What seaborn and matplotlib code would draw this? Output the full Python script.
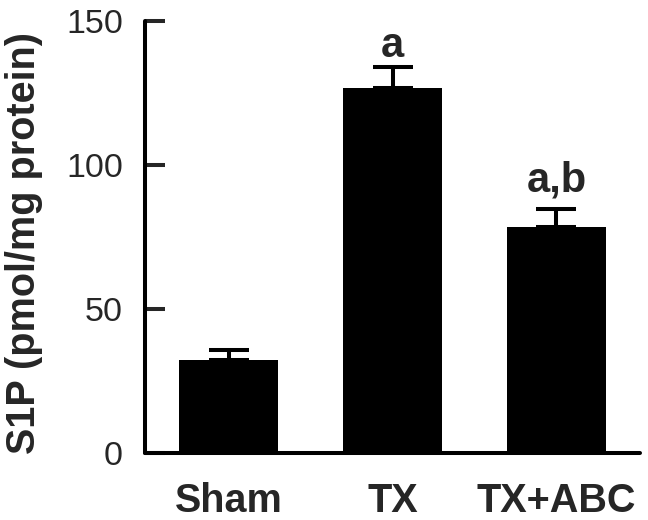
import matplotlib
matplotlib.use("Agg")
import matplotlib.pyplot as plt
import seaborn as sns
import numpy as np

groups = ["Sham", "TX", "TX+ABC"]
means = [32.3, 126.7, 78.5]
sems = [3.5, 7.3, 6.2]
letters = ["", "a", "a,b"]
yticks = [0, 50, 100, 150]

sns.set_theme(style="ticks")
plt.rcParams["font.family"] = ["Liberation Sans", "DejaVu Sans"]

fig = plt.figure(figsize=(6.48, 5.2), dpi=100)
ax = fig.add_axes([145 / 648, 1 - 453 / 520, 495 / 648, 432 / 520])

sns.barplot(x=groups, y=means, color="black", width=0.6, ax=ax,
            edgecolor="black", linewidth=0, saturation=1)
xs = np.arange(len(groups))
ax.errorbar(xs, means, yerr=[np.zeros(len(sems)), sems], fmt="none",
            ecolor="black", elinewidth=2.9, capsize=14.4, capthick=2.9,
            zorder=1)

offs = [0, 10, 18]
for x, m, s, t, o in zip(xs, means, sems, letters, offs):
    if t:
        ax.annotate(t, (x, m + s), xytext=(0, o * 0.72), textcoords="offset points",
                    ha="center", va="baseline", fontsize=30, fontweight="bold")

ax.set_xlim(-0.51, 2.51)
ax.set_ylim(0, 150)
ax.set_yticks(yticks)
ax.set_yticklabels([str(v) for v in yticks], fontsize=24.5)
ax.tick_params(axis="y", direction="in", length=14.4, width=2.9, pad=16)
ax.tick_params(axis="x", length=0, pad=21, labelsize=28.5)
for lab in ax.get_xticklabels():
    lab.set_fontweight("bold")
ax.set_xlabel("")
ax.set_ylabel("S1P (pmol/mg protein)", fontsize=28.5, fontweight="bold")
ax.yaxis.set_label_coords(-0.206, 0.485)
for sp in ["top", "right"]:
    ax.spines[sp].set_visible(False)
for sp in ["left", "bottom"]:
    ax.spines[sp].set_linewidth(2.9)
    ax.spines[sp].set_color("black")
    ax.spines[sp].set_capstyle("round")

fig.savefig("out.png", dpi=100, facecolor="white")
